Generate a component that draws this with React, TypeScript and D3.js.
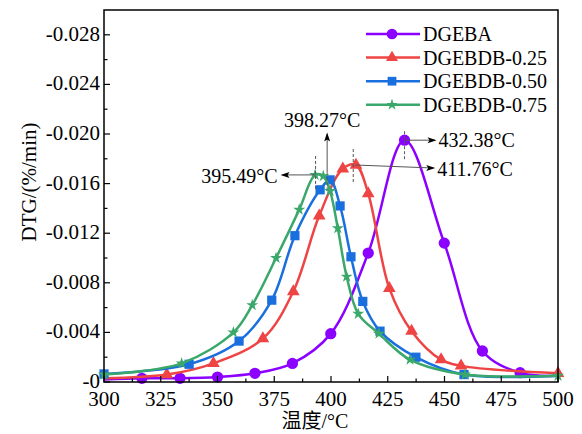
import React from "react";
import * as d3 from "d3";

// ---- data ----
const seriesNames = ["DGEBA", "DGEBDB-0.25", "DGEBDB-0.50", "DGEBDB-0.75"];
const seriesColors = ["#8b00ff", "#ef4444", "#1a6fdf", "#3aa86a"];
const seriesSymbols = ["circle", "triangle", "square", "star"];

const dgebaT = [300, 316.7, 333.5, 350, 366.5, 383, 399.9, 416.4, 432.4, 449.9, 466.7, 483.3, 500];
const dgebaV = [0.0002, 0.0003, 0.0003, 0.0004, 0.0007, 0.0015, 0.0039, 0.0104, 0.0195, 0.0112, 0.0025, 0.00075, 0.0005];
const dgebaM = [0, 1, 1, 1, 1, 1, 1, 1, 1, 1, 1, 1, 0];

const db25T = [300, 327.7, 348.2, 370, 383.4, 394.8, 405.2, 411, 416.4, 425.7, 435.5, 448.5, 457.3, 500];
const db25V = [0.0003, 0.0006, 0.0015, 0.0035, 0.0073, 0.0134, 0.0172, 0.0175, 0.0152, 0.00755, 0.0041, 0.0018, 0.0013, 0.0007];
const db25M = [0, 1, 1, 1, 1, 1, 1, 1, 1, 1, 1, 1, 1, 1];

const db50T = [300, 337.5, 359.5, 373.9, 384.1, 395.2, 399.6, 404, 408.8, 414, 421.6, 437.4, 458.6, 500];
const db50V = [0.00065, 0.00143, 0.0033, 0.0066, 0.0118, 0.0155, 0.0163, 0.0142, 0.0101, 0.0065, 0.0041, 0.002, 0.0006, 0.0005];
const db50M = [1, 1, 1, 1, 1, 1, 1, 1, 1, 1, 1, 1, 1, 0];

const db75T = [300, 334.2, 357, 365.3, 375.8, 386, 393, 396.6, 399.6, 403, 406.9, 412, 421.1, 434.8, 459, 500];
const db75V = [0.0006, 0.0015, 0.004, 0.0062, 0.01, 0.0139, 0.0167, 0.0166, 0.0154, 0.0124, 0.0085, 0.0055, 0.0039, 0.0018, 0.0006, 0.0005];
const db75M = [1, 1, 1, 1, 1, 1, 1, 1, 1, 1, 1, 1, 1, 1, 1, 1];

const xTicks = [300, 325, 350, 375, 400, 425, 450, 475, 500];
const yTicks = [0, 0.004, 0.008, 0.012, 0.016, 0.02, 0.024, 0.028];
const yTickLabels = ["-0", "-0.004", "-0.008", "-0.012", "-0.016", "-0.020", "-0.024", "-0.028"];

// peak annotations
const peakLabels = ["432.38°C", "411.76°C", "398.27°C", "395.49°C"];
const peakT = [432.4, 409.8, 398.3, 393.2];
const peakV = [0.0195, 0.0175, 0.0165, 0.0167];

const W = 582;
const H = 434;
const M = { left: 104, right: 24, top: 10, bottom: 52 };
const FONT = "'Liberation Serif', 'Times New Roman', 'Noto Sans CJK SC', serif";

export default function App() {
  const x = d3.scaleLinear().domain([300, 500]).range([M.left, W - M.right]);
  const y = d3.scaleLinear().domain([0, 0.03]).range([H - M.bottom, M.top]);
  const x0 = M.left, x1 = W - M.right, y0 = H - M.bottom, y1 = M.top;

  const series = [
    { t: dgebaT, v: dgebaV, m: dgebaM },
    { t: db25T, v: db25V, m: db25M },
    { t: db50T, v: db50V, m: db50M },
    { t: db75T, v: db75V, m: db75M },
  ];

  const line = d3
    .line<[number, number]>()
    .x((d) => x(d[0]))
    .y((d) => y(d[1]))
    .curve(d3.curveCatmullRom.alpha(0.5));

  const symType = (s: string) =>
    s === "circle" ? d3.symbolCircle : s === "triangle" ? d3.symbolTriangle : s === "square" ? d3.symbolSquare : d3.symbolStar;
  const symSize = (s: string) => (s === "circle" ? 100 : s === "triangle" ? 70 : s === "square" ? 85 : 45);
  const symPath = (s: string, scale = 1) => d3.symbol().type(symType(s)).size(symSize(s) * scale)() as string;

  const minorX = d3.range(312.5, 500, 25);
  const minorY = d3.range(0.002, 0.03, 0.004);

  const arrowHead = (px: number, py: number, dir: "right" | "left" | "up") => {
    const L = 9, w = 3;
    let pts: number[][];
    if (dir === "right") pts = [[px, py], [px - L, py - w], [px - L + 2, py], [px - L, py + w]];
    else if (dir === "left") pts = [[px, py], [px + L, py - w], [px + L - 2, py], [px + L, py + w]];
    else pts = [[px, py], [px - w, py + L], [px, py + L - 2], [px + w, py + L]];
    return <polygon points={pts.map((p) => p.join(",")).join(" ")} fill="#000" />;
  };

  const grey = "#555";
  const pA = { x: x(peakT[0]), y: y(peakV[0]) };
  const pB = { x: x(peakT[1]), y: y(peakV[1]) };
  const pC = { x: x(peakT[2]), y: y(peakV[2]) };
  const pD = { x: x(peakT[3]), y: y(peakV[3]) };

  return (
    <svg width={W} height={H} style={{ position: "fixed", left: 0, top: 0, background: "#fff" }} fontFamily={FONT}>
      <rect x={0} y={0} width={W} height={H} fill="#fff" />
      {/* series */}
      {series.map((s, i) => {
        const pts: [number, number][] = s.t.map((t, j) => [t, s.v[j]]);
        return (
          <g key={i}>
            <path d={line(pts) as string} fill="none" stroke={seriesColors[i]} strokeWidth={2.5} />
            {pts.map((p, j) =>
              s.m[j] ? (
                <path key={j} d={symPath(seriesSymbols[i])} transform={`translate(${x(p[0])},${y(p[1])})`} fill={seriesColors[i]} />
              ) : null
            )}
          </g>
        );
      })}

      {/* annotations */}
      <g stroke={grey} strokeWidth={1} fill="none">
        <line x1={pA.x} x2={pA.x} y1={pA.y - 9} y2={pA.y + 19} strokeDasharray="3,2" />
        <line x1={pB.x} x2={pB.x} y1={pB.y - 16} y2={pB.y + 17} strokeDasharray="3,2" />
        <line x1={pC.x} x2={pC.x} y1={pC.y - 5} y2={pC.y + 12} strokeDasharray="3,2" />
        <line x1={pD.x} x2={pD.x} y1={pD.y - 19} y2={pD.y + 14} strokeDasharray="3,2" />
        <line x1={pA.x} x2={pA.x + 30} y1={pA.y} y2={pA.y} />
        <line x1={pB.x + 2} x2={pB.x + 80} y1={pB.y} y2={pB.y + 3} />
        <line x1={pC.x} x2={pC.x} y1={pC.y - 5} y2={pC.y - 43} />
        <line x1={pD.x} x2={pD.x - 33} y1={pD.y} y2={pD.y} />
      </g>
      {arrowHead(pA.x + 32, pA.y, "right")}
      {arrowHead(pB.x + 82, pB.y + 3, "right")}
      {arrowHead(pC.x, pC.y - 45, "up")}
      {arrowHead(pD.x - 35, pD.y, "left")}
      <g fontSize={20} fill="#000">
        <text x={pA.x + 34} y={pA.y} dominantBaseline="central">{peakLabels[0]}</text>
        <text x={pB.x + 84} y={pB.y + 4} dominantBaseline="central">{peakLabels[1]}</text>
        <text x={pC.x - 5} y={pC.y - 50} textAnchor="middle">{peakLabels[2]}</text>
        <text x={pD.x - 38} y={pD.y + 1} textAnchor="end" dominantBaseline="central">{peakLabels[3]}</text>
      </g>

      {/* frame */}
      <rect x={x0} y={y1} width={x1 - x0} height={y0 - y1} fill="none" stroke="#000" strokeWidth={1.5} />
      <g stroke="#000" strokeWidth={1.2}>
        {xTicks.map((t) => (
          <line key={"xt" + t} x1={x(t)} x2={x(t)} y1={y0} y2={y0 - 6} />
        ))}
        {minorX.map((t) => (
          <line key={"xm" + t} x1={x(t)} x2={x(t)} y1={y0} y2={y0 - 3.5} />
        ))}
        {yTicks.map((t) => (
          <line key={"yt" + t} x1={x0} x2={x0 + 6} y1={y(t)} y2={y(t)} />
        ))}
        {minorY.map((t) => (
          <line key={"ym" + t} x1={x0} x2={x0 + 3.5} y1={y(t)} y2={y(t)} />
        ))}
      </g>
      <g fontSize={21} fill="#000">
        {xTicks.map((t) => (
          <text key={"xl" + t} x={x(t)} y={y0 + 24} textAnchor="middle">{t}</text>
        ))}
        {yTicks.map((t, i) => (
          <text key={"yl" + t} x={x0 - 4} y={y(t) - 1} textAnchor="end" dominantBaseline="central">{yTickLabels[i]}</text>
        ))}
      </g>
      <text x={315} y={428} textAnchor="middle" fontSize={20}>温度/°C</text>
      <text transform="translate(36,182) rotate(-90)" textAnchor="middle" fontSize={21}>DTG/(%/min)</text>

      {/* legend */}
      <g>
        {seriesNames.map((n, i) => {
          const ly = 34 + i * 23.6;
          return (
            <g key={n}>
              <line x1={366} x2={420} y1={ly} y2={ly} stroke={seriesColors[i]} strokeWidth={2.5} />
              <path d={symPath(seriesSymbols[i], 0.9)} transform={`translate(392,${ly})`} fill={seriesColors[i]} />
              <text x={423} y={ly} dominantBaseline="central" fontSize={20}>{n}</text>
            </g>
          );
        })}
      </g>
    </svg>
  );
}
